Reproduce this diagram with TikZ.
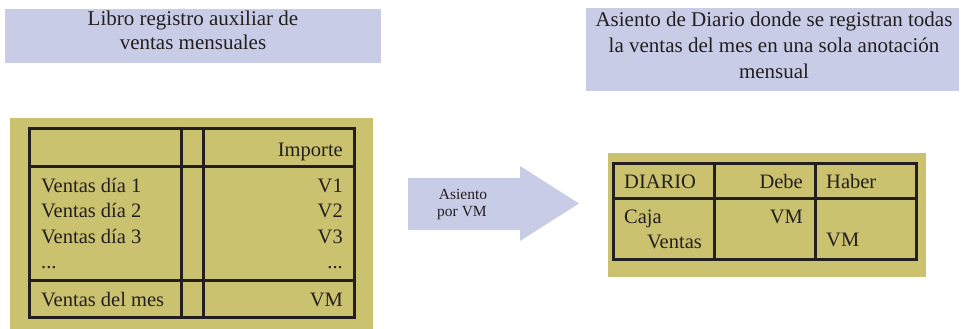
\documentclass[tikz,border=0pt]{standalone}
\usepackage{fontspec}
\setmainfont{Liberation Serif}
\definecolor{bgolive}{HTML}{CBC270}
\definecolor{lav}{HTML}{C8CCE6}
\definecolor{ink}{HTML}{231F20}
\begin{document}
\begin{tikzpicture}[x=1pt,y=-1pt,
  panel/.style={fill=bgolive, draw=none, inner sep=0pt, outer sep=0pt, anchor=north west},
  titlebox/.style={fill=lav, draw=none, inner sep=0pt, outer sep=0pt, anchor=north west},
  tablebox/.style={draw=ink, line width=3pt, inner sep=0pt, outer sep=0pt, anchor=north west},
  rule/.style={draw=ink, line width=3pt},
  tt/.style={font=\fontsize{20.5}{24}\selectfont, text=ink, inner sep=0pt},
  ttl/.style={font=\fontsize{21}{24}\selectfont, text=ink, inner sep=0pt, anchor=base},
  arrtxt/.style={font=\fontsize{15.5}{18}\selectfont, text=ink, inner sep=0pt, anchor=base}
]
\useasboundingbox (0,0) rectangle (964,329);

% title boxes
\node[titlebox, minimum width=376pt, minimum height=54pt] (t1) at (5,9) {};
\node[ttl] (t1a) at (193,26) {Libro registro auxiliar de};
\node[ttl] (t1b) at (193,50) {ventas mensuales};

\node[titlebox, minimum width=373pt, minimum height=83pt] (t2) at (586,8) {};
\node[ttl] (t2a) at (774,27) {Asiento de Diario donde se registran todas};
\node[ttl] (t2b) at (774,53) {la ventas del mes en una sola anotación};
\node[ttl] (t2c) at (774,78.5) {mensual};

% left panel
\node[panel, minimum width=363pt, minimum height=211pt] (lp) at (10,118) {};
\node[tablebox, minimum width=325pt, minimum height=189pt] (lt) at (29,128) {};
\draw[rule] (lt.west |- 0,166) -- (lt.east |- 0,166);
\draw[rule] (lt.west |- 0,280) -- (lt.east |- 0,280);
\draw[rule] (lt.north -| 181,0) -- (lt.south -| 181,0);
\draw[rule] (lt.north -| 203,0) -- (lt.south -| 203,0);

\node[tt, anchor=base east] (imp) at (343,156) {Importe};
\node[tt, anchor=base west] (d1) at (41,192) {Ventas día 1};
\node[tt, anchor=base west] (d2) at (41,217.5) {Ventas día 2};
\node[tt, anchor=base west] (d3) at (41,243) {Ventas día 3};
\node[tt, anchor=base west] (dd) at (41,268) {...};
\node[tt, anchor=base west] (dm) at (41,306) {Ventas del mes};
\node[tt, anchor=base east] (v1) at (343,192) {V1};
\node[tt, anchor=base east] (v2) at (343,217.5) {V2};
\node[tt, anchor=base east] (v3) at (343,243) {V3};
\node[tt, anchor=base east] (vd) at (343,268) {...};
\node[tt, anchor=base east] (vm) at (343,306) {VM};

% arrow
\fill[lav] (408,178) -- (520,178) -- (520,166) -- (579,203.5) -- (520,241) -- (520,230) -- (408,230) -- cycle;
\node[arrtxt] (a1) at (463,199) {Asiento};
\node[arrtxt] (a2) at (462,216.5) {por VM};

% right panel
\node[panel, minimum width=318pt, minimum height=124pt] (rp) at (608,153) {};
\node[tablebox, minimum width=303pt, minimum height=96pt] (rt) at (613,163) {};
\draw[rule] (rt.west |- 0,198) -- (rt.east |- 0,198);
\draw[rule] (rt.north -| 714,0) -- (rt.south -| 714,0);
\draw[rule] (rt.north -| 815,0) -- (rt.south -| 815,0);

\node[tt, anchor=base west] (dia) at (624,188.5) {DIARIO};
\node[tt, anchor=base east] (deb) at (803,188.5) {Debe};
\node[tt, anchor=base west] (hab) at (826,188.5) {Haber};
\node[tt, anchor=base west] (caj) at (624,223) {Caja};
\node[tt, anchor=base east] (ven) at (702,248.5) {Ventas};
\node[tt, anchor=base east] (vmd) at (803,223) {VM};
\node[tt, anchor=base west] (vmh) at (826,246.5) {VM};
\end{tikzpicture}
\end{document}
